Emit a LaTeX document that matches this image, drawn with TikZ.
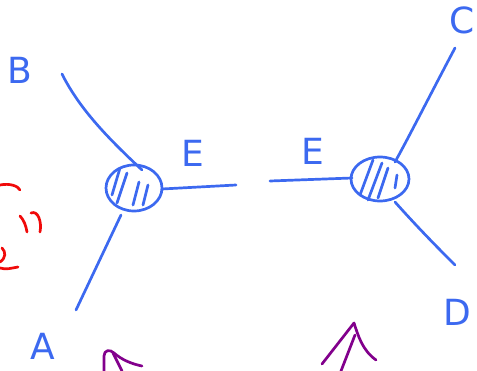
\documentclass[tikz,border=0pt]{standalone}
\usepackage{fontspec}
\setsansfont{DejaVu Sans}
\usetikzlibrary{shapes.geometric}
\begin{document}
\begin{tikzpicture}[x=1pt,y=-1pt,
  pen/.style={line width=2.7pt,line cap=round,line join=round},
  blue pen/.style={pen,draw=inkblue},
  red pen/.style={pen,draw=inkred},
  purple pen/.style={pen,draw=inkpurple},
  lbl/.style={text=inkblue,font=\sffamily\fontsize{36}{36}\selectfont\mdseries,inner sep=0pt}]
\definecolor{inkblue}{RGB}{60,105,240}
\definecolor{inkred}{RGB}{240,10,10}
\definecolor{inkpurple}{RGB}{130,0,140}
\useasboundingbox (0,0) rectangle (477,371);
% blobs
\node[draw=inkblue,line width=2.7pt,ellipse,minimum width=56pt,minimum height=46pt,inner sep=0pt] (L) at (134,188) {};
\node[draw=inkblue,line width=2.7pt,ellipse,minimum width=58pt,minimum height=44pt,inner sep=0pt] (R) at (380,179) {};
% hatching left
\draw[blue pen] (112,195) -- (120,168) (117,203) -- (127,173) (133,205) -- (139,182) (143,205) -- (148,185);
% hatching right
\draw[blue pen] (360,195) -- (373,160) (368,200) -- (382,163) (378,198) -- (388,168) (395,188) -- (397,175);
% external lines
\coordinate (b0) at (62,74);
\coordinate (a0) at (76,310);
\coordinate (c0) at (455,48);
\coordinate (d0) at (455,265);
\coordinate (e1) at (236,185);
\coordinate (e2) at (270,181);
\draw[blue pen] (b0) .. controls (80,110) and (110,140) .. (142,170);
\draw[blue pen] (121,215) -- (a0);
\draw[blue pen] (162,189) -- (e1);
\draw[blue pen] (e2) -- (352,178);
\draw[blue pen] (c0) .. controls (430,95) and (410,135) .. (395,162);
\draw[blue pen] (395,202) .. controls (420,230) and (440,250) .. (d0);
% labels
\node[lbl] (B) at (20,70) {B};
\node[lbl] (A) at (43,346) {A};
\node[lbl] (E1) at (193,153) {E};
\node[lbl] (E2) at (313,151) {E};
\node[lbl] (C) at (462,20) {C};
\node[lbl] (D) at (457,312) {D};
% red marks
\draw[red pen] (0,185) .. controls (10,183) and (18,186) .. (20,190);
\draw[red pen] (20,216) .. controls (24,220) and (26,226) .. (27,232);
\draw[red pen] (31,213) .. controls (38,210) and (42,222) .. (40,232);
\draw[red pen] (0,262) .. controls (6,258) and (6,252) .. (2,248);
\draw[red pen] (0,268) .. controls (6,270) and (12,268) .. (18,267);
% purple marks
\draw[purple pen] (104,371) -- (104,356) .. controls (104,350) and (110,349) .. (114,353) .. controls (122,360) and (132,364) .. (142,366);
\draw[purple pen] (113,353) -- (122,371);
\draw[purple pen] (322,364) -- (354,323) .. controls (358,335) and (362,350) .. (376,360);
\draw[purple pen] (355,335) -- (341,371);
\end{tikzpicture}
\end{document}
